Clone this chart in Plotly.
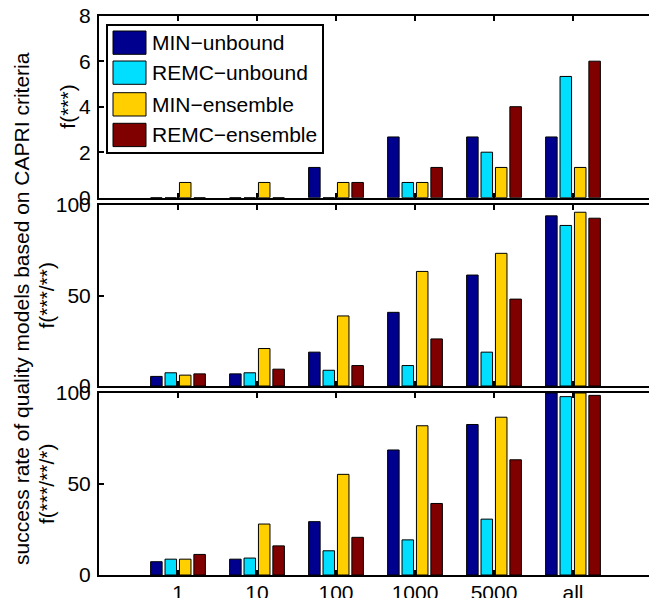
import plotly.graph_objects as go

categories = ["1", "10", "100", "1000", "5000", "all"]
series_names = ["MIN−unbound", "REMC−unbound", "MIN−ensemble", "REMC−ensemble"]
series_colors = ["#00008F", "#00DFFF", "#FFCF00", "#800000"]

# f(***)
top_min_unbound = [0, 0, 1.33, 2.67, 2.67, 2.67]
top_remc_unbound = [0, 0, 0, 0.67, 2.0, 5.33]
top_min_ensemble = [0.67, 0.67, 0.67, 0.67, 1.33, 1.33]
top_remc_ensemble = [0, 0, 0.67, 1.33, 4.0, 6.0]

# f(***/**)
mid_min_unbound = [5.3, 6.7, 18.7, 40.7, 61.3, 94.0]
mid_remc_unbound = [7.3, 7.3, 8.7, 11.3, 18.7, 88.7]
mid_min_ensemble = [6.0, 20.7, 38.7, 63.3, 73.3, 96.0]
mid_remc_ensemble = [6.7, 9.3, 11.3, 26.0, 48.0, 92.7]

# f(***/**/*)
bot_min_unbound = [7.3, 8.7, 29.3, 68.7, 82.7, 100]
bot_remc_unbound = [8.7, 9.3, 13.3, 19.3, 30.7, 98.0]
bot_min_ensemble = [8.7, 28.0, 55.3, 82.0, 86.7, 100]
bot_remc_ensemble = [11.3, 16.0, 20.7, 39.3, 63.3, 98.7]

top_ticks = [0, 2, 4, 6, 8]
pct_ticks = [0, 50, 100]
panel_titles = ["f(***)", "f(***/**)", "f(***/**/*)"]
main_title = "success rate of quality models based on CAPRI criteria"

W, H = 649, 598
FONT = "Liberation Sans, Arial, Helvetica, sans-serif"
FS = 21


def px(x):
    return x / W


def py(y):
    return 1 - y / H


panels = [
    ([top_min_unbound, top_remc_unbound, top_min_ensemble, top_remc_ensemble], "x", "y"),
    ([mid_min_unbound, mid_remc_unbound, mid_min_ensemble, mid_remc_ensemble], "x2", "y2"),
    ([bot_min_unbound, bot_remc_unbound, bot_min_ensemble, bot_remc_ensemble], "x3", "y3"),
]

fig = go.Figure()
for vals_list, xa, ya in panels:
    for name, color, vals in zip(series_names, series_colors, vals_list):
        fig.add_trace(go.Bar(
            x=categories, y=vals, name=name, xaxis=xa, yaxis=ya,
            marker=dict(color=color, line=dict(color="black", width=1)),
            showlegend=False,
        ))

# panel pixel extents (top, bottom)
pan_px = [(15.7, 197.7), (205, 386), (393, 575)]
x_left = 99
xrange = [-1, (W - x_left) / 79 - 1]

common_x = dict(
    type="category", categoryorder="array", categoryarray=categories,
    range=xrange, showline=True, linewidth=2, linecolor="black",
    ticks="inside", ticklen=5, tickwidth=1.5, tickcolor="black",
    mirror="ticks", showgrid=False, zeroline=False, automargin=False,
    tickfont=dict(family=FONT, size=FS, color="black"),
)
common_y = dict(
    showline=True, linewidth=2, linecolor="black",
    ticks="inside", ticklen=5, tickwidth=1.5, tickcolor="black",
    showgrid=False, zeroline=False, ticklabelstandoff=2, automargin=False,
    tickfont=dict(family=FONT, size=FS, color="black"),
)

layout = dict(
    width=W, height=H, margin=dict(l=0, r=0, t=0, b=0, autoexpand=False),
    paper_bgcolor="white", plot_bgcolor="white",
    barmode="group", bargap=0.27, bargroupgap=0.2,
    showlegend=False,
)
axis_names = [("xaxis", "yaxis", "y"), ("xaxis2", "yaxis2", "y2"), ("xaxis3", "yaxis3", "y3")]
for i, ((xn, yn, yanchor), (t, b)) in enumerate(zip(axis_names, pan_px)):
    xa = dict(common_x, domain=[px(x_left), 1.0], anchor=yanchor,
              showticklabels=(i == 2), ticklabelstandoff=-2)
    ya = dict(common_y, domain=[py(b), py(t)], anchor=xn.replace("axis", "") if i else "x")
    if i == 0:
        ya.update(range=[0, 8], tickvals=top_ticks)
    else:
        ya.update(range=[0, 100], tickvals=pct_ticks)
    layout[xn] = xa
    layout[yn] = ya

fig.update_layout(**layout)

annotations = []
title_x = [68, 46, 46]
for title, (t, b), tx in zip(panel_titles, pan_px, title_x):
    annotations.append(dict(
        text=title, xref="paper", yref="paper", x=px(tx), y=py((t + b) / 2),
        xanchor="center", yanchor="middle", textangle=-90, showarrow=False,
        font=dict(family=FONT, size=FS, color="black"),
    ))
annotations.append(dict(
    text=main_title, xref="paper", yref="paper", x=px(21), y=py(309),
    xanchor="center", yanchor="middle", textangle=-90, showarrow=False,
    font=dict(family=FONT, size=FS, color="black"),
))

# legend drawn as a box with swatches
shapes = [dict(type="rect", xref="paper", yref="paper",
               x0=px(107), x1=px(323), y0=py(153), y1=py(25),
               line=dict(color="black", width=2), fillcolor="white", layer="above")]
sw_tops = [31, 61, 92.7, 123.3]
for name, color, st in zip(series_names, series_colors, sw_tops):
    shapes.append(dict(type="rect", xref="paper", yref="paper",
                       x0=px(113), x1=px(146), y0=py(st + 23.3), y1=py(st),
                       line=dict(color="black", width=1), fillcolor=color, layer="above"))
    annotations.append(dict(
        text=name, xref="paper", yref="paper", x=px(150), y=py(st + 11.7),
        xanchor="left", yanchor="middle", showarrow=False,
        font=dict(family=FONT, size=FS, color="black"),
    ))

fig.update_layout(annotations=annotations, shapes=shapes)
fig.write_html("out.html", config={"displayModeBar": False},
               post_script="document.body.style.margin='0';")
